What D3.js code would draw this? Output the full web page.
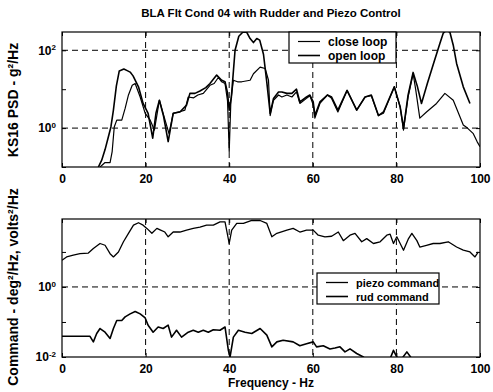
<!DOCTYPE html>
<html>
<head>
<meta charset="utf-8">
<script src="https://cdn.jsdelivr.net/npm/d3@7"></script>
<style>
  body { margin: 0; background: #fff; }
  svg { display: block; font-family: "Liberation Sans", Arial, sans-serif; font-weight: bold; }
</style>
</head>
<body>
<div id="viz-container"></div>
<script>
// KS16 PSD, close loop (g^2/Hz)
const closeFreq = [9.1, 10.3, 11.5, 12.0, 12.5, 13.1, 14.3, 15.1, 15.9, 16.8, 17.5, 18.7, 19.9, 21.1, 22.1, 23.3, 24.4, 25.6, 26.6, 28, 29.4, 30.2, 31.5, 32.5, 33.8, 35.4, 36.4, 37.4, 38.2, 39, 39.6, 40, 40.4, 41, 42, 43, 45, 45.8, 47.4, 48.6, 49.4, 49.8, 50.6, 51.8, 52.6, 53.8, 55, 56.1, 56.9, 58.5, 59.3, 60.1, 60.5, 61.7, 63.5, 64.5, 66, 68.2, 70.5, 72.5, 74, 75.7, 76.9, 79.5, 80.9, 81.7, 82.8, 84, 84.6, 85.6, 87.2, 89.6, 91.6, 93.6, 95.2, 96, 97, 98.4, 99.3, 100];
const closePsd = [0.10, 0.13, 0.13, 0.25, 1.07, 1.6, 1.6, 3.2, 7.1, 12.6, 14, 6.3, 2.4, 1.6, 0.89, 5.2, 2.0, 0.72, 2.4, 2.6, 2.9, 6.3, 6.0, 7.1, 7.8, 12.6, 14, 20, 15.5, 14, 5, 0.25, 5, 17, 15.5, 15.5, 17, 25, 37, 34, 17, 2.1, 5.2, 7.1, 6.3, 7.1, 6.3, 8.5, 4.3, 5.8, 6.8, 4.0, 1.8, 4.3, 7.1, 5.8, 2.6, 9.3, 2.9, 6.3, 6.8, 2.1, 2.4, 11.5, 3.5, 0.89, 6.3, 25, 10, 1.8, 2.6, 4.3, 7.8, 5.2, 1.95, 1.2, 1.0, 0.72, 0.45, 0.33];

// KS16 PSD, open loop (g^2/Hz)
const openFreq = [8.7, 9.5, 10.3, 11.1, 11.7, 12.3, 13.0, 13.7, 14.8, 15.6, 16.3, 17.0, 18.3, 19.4, 20.6, 21.7, 22.5, 23.3, 24.3, 25.4, 26.6, 28.2, 29.8, 30.6, 31.8, 33, 34.4, 35.4, 37, 38.2, 39, 39.6, 40, 40.5, 41.4, 42.3, 43.3, 44.2, 45, 45.8, 46.6, 47.3, 48.2, 49, 49.8, 50.6, 51.8, 52.6, 53.8, 55, 56.1, 56.9, 58.5, 59.3, 60.1, 60.5, 61.7, 63.5, 64.5, 66, 68.2, 70.5, 72.5, 74, 75.7, 76.9, 79.5, 80.9, 81.7, 82.8, 84, 85, 86, 87.4, 89, 90.4, 91.2, 92, 92.8, 93.6, 94.4, 96, 97.6];
const openPsd = [0.10, 0.15, 0.28, 0.6, 1.07, 2.9, 12, 29.5, 33, 30, 27.5, 22, 11.5, 4.3, 2.4, 0.55, 2.5, 5.2, 2.0, 0.45, 2.4, 2.6, 3.9, 7.8, 7.8, 9, 11, 14, 23, 17, 15.5, 8, 2.9, 6, 100, 230, 295, 290, 200, 158, 200, 182, 79, 15, 2.4, 5.8, 8.5, 8.5, 7.8, 7.8, 10, 4.7, 6.3, 7.1, 4.7, 2.1, 4.7, 7.1, 6.3, 2.9, 9.3, 2.9, 6.3, 7.1, 2.1, 2.6, 11.5, 3.5, 1.0, 7.1, 27, 12, 4.3, 14, 50, 150, 275, 330, 290, 135, 46, 11.5, 4.3];

// command PSDs
const piezoFreq = [0, 1.1, 2.7, 4.3, 6.3, 7.5, 9.1, 10.3, 11.5, 12.3, 13.5, 14.7, 15.9, 17.1, 18.3, 19.4, 20.3, 21.5, 22.7, 23.6, 24.6, 25.4, 26.6, 28.2, 29.8, 31.4, 33, 34.6, 36.2, 37.8, 39, 40, 40.6, 41.8, 43.4, 45.4, 47.4, 49, 50.2, 51.4, 53.8, 55.3, 56.9, 58.5, 60.1, 61.3, 62.9, 64.5, 66.1, 67.3, 68.9, 70.1, 71.7, 72.9, 74.5, 76.1, 77.7, 78.5, 79.3, 80.1, 81.7, 82.9, 83.7, 84.9, 85.6, 87.2, 88.8, 90.4, 92.4, 94.4, 96, 97.6, 98.8, 99.6];
const piezoPsd = [5.8, 7.2, 8.1, 8.9, 9.3, 12.6, 17.4, 15.5, 8.9, 7.2, 10, 19.5, 34, 58, 68, 58, 47, 34, 47, 42, 37, 27, 37, 37, 42, 47, 51, 58, 58, 72, 72, 17.4, 42, 65, 65, 79, 79, 65, 27, 34, 42, 47, 37, 42, 42, 30, 27, 28, 37, 21, 30, 34, 19.5, 24, 17.4, 19.5, 30, 32, 17.4, 27, 11.2, 24, 34, 21, 13.8, 15.5, 17.4, 17.4, 19.5, 13.8, 11.2, 10, 7.2, 10];

const rudFreq = [0, 6.7, 7.5, 8.3, 9.1, 10.3, 11.5, 12.3, 13.1, 14.3, 15.1, 16.3, 17.5, 18.7, 19.9, 20.6, 21.8, 23, 24.2, 25.4, 26.2, 27.4, 28.6, 30.2, 31.4, 32.6, 33.8, 35, 36.2, 37.8, 39, 39.8, 40.2, 41, 42.2, 43.8, 45.4, 47.4, 49, 50.2, 51.4, 52.9, 55.3, 56.9, 58.5, 60.1, 60.9, 62.5, 64.1, 65.3, 66.5, 67.7, 68.9, 70.5, 72.1, 73.5, 75.5, 77.5, 78.5, 79.3, 80.1, 81, 82.5, 83.4, 84.5, 87, 90, 94, 97, 100];
const rudPsd = [0.039, 0.039, 0.027, 0.047, 0.065, 0.051, 0.034, 0.065, 0.11, 0.11, 0.14, 0.17, 0.2, 0.17, 0.13, 0.081, 0.051, 0.072, 0.065, 0.081, 0.037, 0.058, 0.037, 0.051, 0.058, 0.051, 0.058, 0.051, 0.06, 0.058, 0.072, 0.0155, 0.01, 0.037, 0.058, 0.051, 0.047, 0.065, 0.042, 0.0195, 0.027, 0.03, 0.027, 0.021, 0.024, 0.027, 0.0195, 0.021, 0.017, 0.018, 0.0195, 0.014, 0.017, 0.0126, 0.01, 0.007, 0.006, 0.007, 0.009, 0.0155, 0.01, 0.008, 0.014, 0.01, 0.007, 0.005, 0.005, 0.004, 0.004, 0.004];

const freqTicks = [0, 20, 40, 60, 80, 100];
const freqGrid = [20, 40, 60, 80];
const topTicks = [0.1, 1, 10, 100];
const topLabels = [1, 100];
const topGrid = [1, 100];
const botTicks = [0.01, 0.1, 1, 10];
const botLabels = [0.01, 1];
const botGrid = [1];

const width = 493;
const height = 392;
const marginLeft = 62;
const marginRight = 13;

const svg = d3.select("#viz-container")
  .append("svg")
  .attr("width", width)
  .attr("height", height);

svg.append("rect").attr("width", width).attr("height", height).attr("fill", "#fff");

const x = d3.scaleLinear()
  .domain([0, 100])
  .range([marginLeft, width - marginRight]);

function panel(name, top, bottom, domain, ticks, labels, grid, series) {
  const y = d3.scaleLog().domain(domain).range([bottom, top]);

  svg.append("clipPath").attr("id", "clip-" + name)
    .append("rect")
    .attr("x", marginLeft).attr("y", top)
    .attr("width", width - marginRight - marginLeft).attr("height", bottom - top);

  // dashed grid
  const grid_g = svg.append("g")
    .attr("stroke", "#000").attr("stroke-width", 1).attr("stroke-dasharray", "6,4");
  grid_g.selectAll("line.v").data(freqGrid).join("line")
    .attr("x1", d => x(d)).attr("x2", d => x(d))
    .attr("y1", top).attr("y2", bottom);
  grid_g.selectAll("line.h").data(grid).join("line")
    .attr("class", "h")
    .attr("x1", marginLeft).attr("x2", width - marginRight)
    .attr("y1", d => y(d)).attr("y2", d => y(d));

  // curves
  const line = d3.line().x(d => x(d[0])).y(d => y(d[1]));
  svg.append("g").attr("clip-path", `url(#clip-${name})`)
    .selectAll("path").data(series).join("path")
    .attr("d", s => line(d3.zip(s.freq, s.psd)))
    .attr("fill", "none")
    .attr("stroke", "#000")
    .attr("stroke-width", s => s.width)
    .attr("stroke-linejoin", "round");

  // axes, ticks pointing inward
  svg.append("g")
    .attr("transform", `translate(0,${bottom})`)
    .call(d3.axisBottom(x).tickValues(freqTicks).tickSizeInner(-4).tickSizeOuter(0).tickPadding(7));
  svg.append("g")
    .attr("transform", `translate(0,${top})`)
    .call(d3.axisTop(x).tickValues(freqTicks).tickSizeInner(-4).tickSizeOuter(0).tickFormat(""));

  const ya = svg.append("g")
    .attr("transform", `translate(${marginLeft},0)`)
    .call(d3.axisLeft(y).tickValues(ticks).tickSizeInner(-4).tickSizeOuter(0).tickPadding(6)
      .tickFormat(d => labels.includes(d) ? "10" : ""));
  ya.selectAll(".tick text").filter(d => labels.includes(d))
    .append("tspan")
    .attr("dy", "-0.55em")
    .attr("font-size", 8)
    .text(d => Math.round(Math.log10(d)));
  svg.append("g")
    .attr("transform", `translate(${width - marginRight},0)`)
    .call(d3.axisRight(y).tickValues(ticks).tickSizeInner(-4).tickSizeOuter(0).tickFormat(""));

  svg.selectAll(".domain").remove();
  svg.selectAll(".tick text")
    .attr("font-size", 12).attr("font-weight", "bold")
    .attr("font-family", "'Liberation Sans', Arial, sans-serif");

  svg.append("rect")
    .attr("x", marginLeft).attr("y", top)
    .attr("width", width - marginRight - marginLeft).attr("height", bottom - top)
    .attr("fill", "none").attr("stroke", "#000").attr("stroke-width", 1.2);

  return y;
}

panel("top", 32, 167, [0.1, Math.pow(10, 2.47)], topTicks, topLabels, topGrid, [
  {freq: closeFreq, psd: closePsd, width: 1.2},
  {freq: openFreq, psd: openPsd, width: 1.6}
]);

panel("bot", 219, 357, [0.01, Math.pow(10, 1.94)], botTicks, botLabels, botGrid, [
  {freq: piezoFreq, psd: piezoPsd, width: 1.3},
  {freq: rudFreq, psd: rudPsd, width: 1.6}
]);

// legends
function legend(x0, y0, w, h, fs, items) {
  const g = svg.append("g");
  g.append("rect").attr("x", x0).attr("y", y0).attr("width", w).attr("height", h)
    .attr("fill", "#fff").attr("stroke", "#000").attr("stroke-width", 1.2);
  items.forEach((it, i) => {
    const yy = y0 + 9.5 + i * 14;
    g.append("line").attr("x1", x0 + 9).attr("x2", x0 + 31).attr("y1", yy).attr("y2", yy)
      .attr("stroke", "#000").attr("stroke-width", it.width);
    g.append("text").attr("x", x0 + 39).attr("y", yy + 4)
      .attr("font-size", fs).text(it.label);
  });
}
legend(289, 32, 107, 31, 12, [{label: "close loop", width: 1.2}, {label: "open loop", width: 1.6}]);
legend(317, 273, 122, 31, 11, [{label: "piezo command", width: 1.3}, {label: "rud command", width: 1.6}]);

// titles
svg.append("text").attr("x", 271).attr("y", 17).attr("text-anchor", "middle")
  .attr("font-size", 11.5).text("BLA Flt Cond 04 with Rudder and Piezo Control");
svg.append("text").attr("x", 271).attr("y", 387).attr("text-anchor", "middle")
  .attr("font-size", 12).text("Frequency - Hz");
svg.append("text").attr("transform", "translate(18,100) rotate(-90)").attr("text-anchor", "middle")
  .attr("font-size", 14).text("KS16 PSD - g²/Hz");
svg.append("text").attr("transform", "translate(18,287) rotate(-90)").attr("text-anchor", "middle")
  .attr("font-size", 14).text("Command - deg²/Hz, volts²/Hz");
</script>
</body>
</html>
